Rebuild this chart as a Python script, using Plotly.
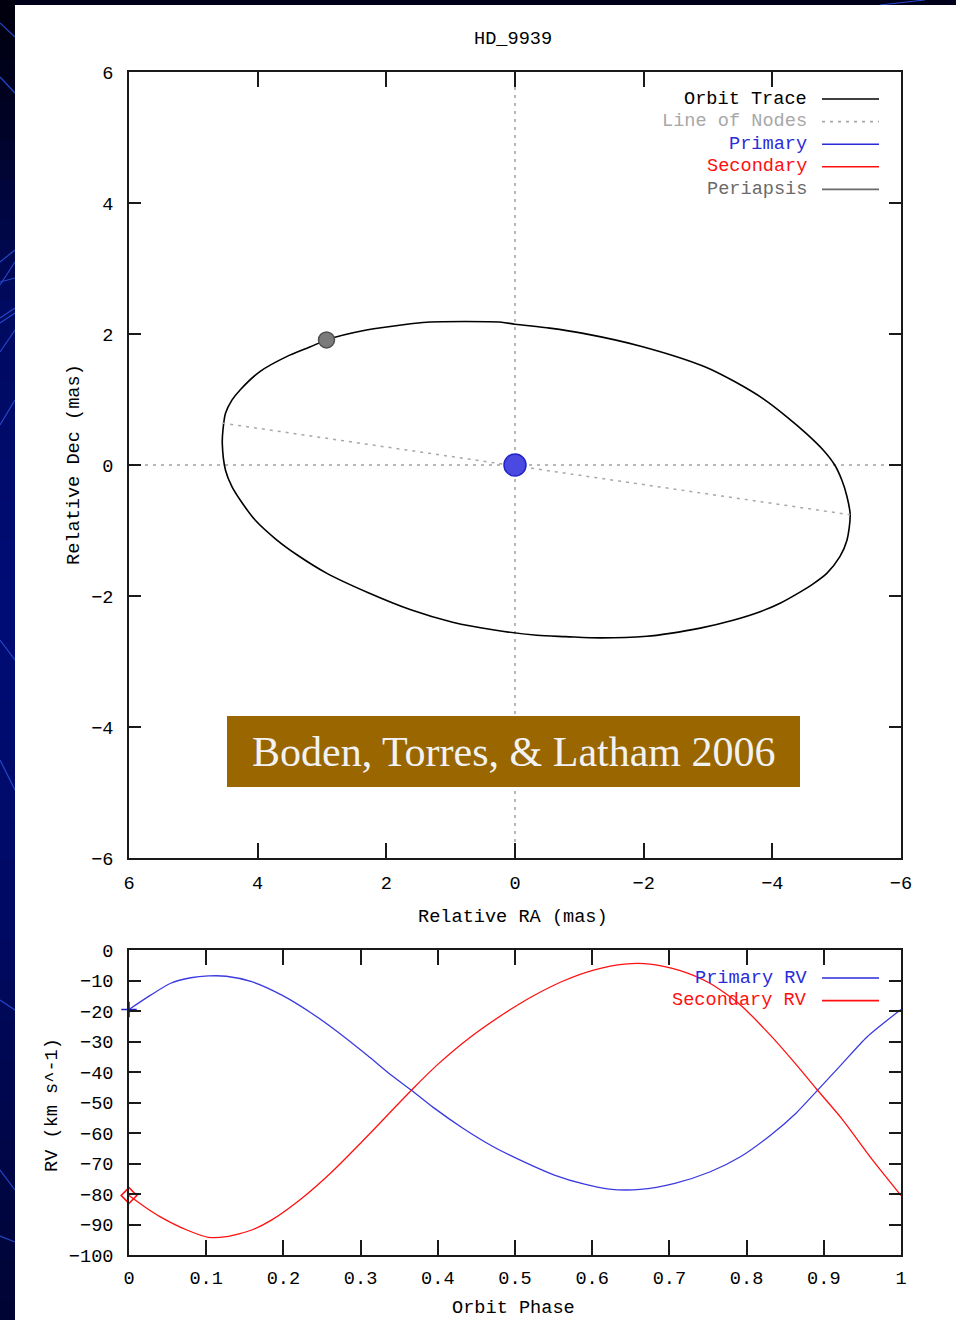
import plotly.graph_objects as go

# ---------------- data ----------------
title_text = "HD_9939"

# relative orbit of the secondary (RA, Dec in mas)
orbit_ra = [4.55, 4.54, 4.50, 4.40, 4.27, 3.96, 3.55, 3.19, 2.93, 2.31, 1.68, 1.37, 0.78,
            0.21, 0.00, -0.54, -1.06, -1.97, -2.95, -3.42, -3.86, -4.22, -4.53, -4.79,
            -4.97, -5.08, -5.16, -5.21, -5.16, -5.05, -4.85, -4.64, -4.43, -4.12, -3.81,
            -3.39, -2.88, -2.41, -2.05, -1.32, -0.79, -0.34, 0.32, 0.97, 1.62, 2.28, 2.93,
            3.39, 3.72, 4.04, 4.24, 4.40, 4.50, 4.55]
orbit_dec = [0.33, 0.53, 0.79, 0.99, 1.15, 1.43, 1.655, 1.80, 1.91, 2.06, 2.15, 2.18, 2.19,
             2.18, 2.15, 2.09, 2.01, 1.81, 1.50, 1.27, 1.01, 0.74, 0.48, 0.23,
             0.00, -0.23, -0.48, -0.76, -1.15, -1.40, -1.65, -1.81, -1.94, -2.11, -2.24,
             -2.37, -2.49, -2.57, -2.615, -2.64, -2.62, -2.60, -2.52, -2.40, -2.21, -1.95, -1.65,
             -1.37, -1.13, -0.84, -0.58, -0.33, -0.08, 0.33]

nodes_ra = [4.55, -5.21]
nodes_dec = [0.64, -0.76]

primary_ra = [0.0]
primary_dec = [0.0]

periapsis_ra = [2.93]
periapsis_dec = [1.91]

xy_ticks = [6, 4, 2, 0, -2, -4, -6]

# radial velocity curves (km/s) against orbital phase
phase_primary = [0.0, 0.028, 0.054, 0.080, 0.103, 0.126, 0.159, 0.198, 0.237, 0.270,
                 0.309, 0.342, 0.368, 0.394, 0.433, 0.472, 0.511, 0.551, 0.590, 0.622,
                 0.662, 0.707, 0.753, 0.792, 0.831, 0.864, 0.890, 0.923, 0.956, 1.0]
rv_primary = [-19.5, -14.8, -10.9, -9.1, -8.5, -8.6, -10.4, -14.8, -20.8, -26.8,
              -34.6, -41.5, -46.4, -51.6, -58.5, -64.5, -69.4, -73.8, -76.8, -78.4,
              -78.5, -76.5, -72.7, -67.8, -60.7, -53.5, -46.5, -37.5, -28.5, -19.5]

phase_secondary = [0.0, 0.022, 0.040, 0.075, 0.103, 0.126, 0.159, 0.185, 0.224, 0.263,
                   0.302, 0.335, 0.368, 0.400, 0.440, 0.485, 0.524, 0.564, 0.603, 0.642,
                   0.675, 0.714, 0.753, 0.792, 0.831, 0.864, 0.890, 0.923, 0.962, 1.0]
rv_secondary = [-80.5, -84.5, -87.4, -91.8, -94.2, -94.0, -91.8, -88.5, -81.4, -72.7,
                -62.8, -54.1, -45.4, -37.5, -29.0, -21.0, -15.0, -10.0, -6.5, -4.6,
                -4.6, -6.8, -11.0, -18.0, -28.0, -37.5, -45.4, -55.2, -68.5, -80.5]

phase_ticks = [0, 0.1, 0.2, 0.3, 0.4, 0.5, 0.6, 0.7, 0.8, 0.9, 1]
phase_tick_text = ["0", "0.1", "0.2", "0.3", "0.4", "0.5", "0.6", "0.7", "0.8", "0.9", "1"]
rv_ticks = [0, -10, -20, -30, -40, -50, -60, -70, -80, -90, -100]

orbit_legend = ["Orbit Trace", "Line of Nodes", "Primary", "Secondary", "Periapsis"]
rv_legend = ["Primary RV", "Secondary RV"]

citation = "Boden, Torres, & Latham 2006"

# ---------------- styling ----------------
W, H = 956, 1320
ML, MR, MT, MB = 129, 55, 72, 65
PW, PH = W - ML - MR, H - MT - MB

MONO = "Liberation Mono"
FS = 18.6
BLUE = "#2b2bd8"
RED = "#ff1010"
GRAY_NODES = "#a8a8a8"
GRAY_PERI = "#6a6a6a"


def px(x):
    return (x - ML) / PW


def py(y):
    return (H - MB - y) / PH


fig = go.Figure()

# orbit panel
fig.add_trace(go.Scatter(x=orbit_ra, y=orbit_dec, mode="lines",
                         line=dict(color="#000000", width=1.6, shape="spline", smoothing=0.8),
                         xaxis="x", yaxis="y", showlegend=False, hoverinfo="skip"))
fig.add_trace(go.Scatter(x=nodes_ra, y=nodes_dec, mode="lines",
                         line=dict(color=GRAY_NODES, width=1.5, dash="3px,5px"),
                         xaxis="x", yaxis="y", showlegend=False, hoverinfo="skip"))
fig.add_trace(go.Scatter(x=periapsis_ra, y=periapsis_dec, mode="markers",
                         marker=dict(size=16, color="#7a7a7a", line=dict(color="#505050", width=1.5)),
                         xaxis="x", yaxis="y", showlegend=False, hoverinfo="skip"))
fig.add_trace(go.Scatter(x=primary_ra, y=primary_dec, mode="markers",
                         marker=dict(size=22, color="#4a4ae2", line=dict(color="#2424c8", width=1.5)),
                         xaxis="x", yaxis="y", showlegend=False, hoverinfo="skip"))

# radial velocity panel
fig.add_trace(go.Scatter(x=phase_primary, y=rv_primary, mode="lines",
                         line=dict(color="#3a3ae0", width=1.3, shape="spline", smoothing=0.7),
                         xaxis="x2", yaxis="y2", showlegend=False, hoverinfo="skip"))
fig.add_trace(go.Scatter(x=phase_secondary, y=rv_secondary, mode="lines",
                         line=dict(color=RED, width=1.3, shape="spline", smoothing=0.7),
                         xaxis="x2", yaxis="y2", showlegend=False, hoverinfo="skip"))
fig.add_trace(go.Scatter(x=phase_primary[:1], y=rv_primary[:1], mode="markers",
                         marker=dict(symbol="cross-thin-open", size=11, color="#2020c0",
                                     line=dict(color="#2020c0", width=1.6)),
                         cliponaxis=False, xaxis="x2", yaxis="y2", showlegend=False, hoverinfo="skip"))
fig.add_trace(go.Scatter(x=phase_secondary[:1], y=rv_secondary[:1], mode="markers",
                         marker=dict(symbol="diamond-open", size=12, color=RED,
                                     line=dict(color=RED, width=1.6)),
                         cliponaxis=False, xaxis="x2", yaxis="y2", showlegend=False, hoverinfo="skip"))

shapes = []
annotations = []

# slide background: dark strip on the left with a vertical gradient
band_stops = [(0, (0, 0, 14)), (120, (0, 3, 40)), (300, (0, 10, 96)), (600, (0, 12, 118)),
              (900, (0, 10, 100)), (1150, (0, 6, 70)), (1320, (0, 4, 50))]
for i in range(0, H, 20):
    for (a, ca), (b, cb) in zip(band_stops[:-1], band_stops[1:]):
        if a <= i < b:
            t = (i - a) / (b - a)
            c = tuple(int(round(ca[k] + (cb[k] - ca[k]) * t)) for k in range(3))
            break
    shapes.append(dict(type="rect", xref="paper", yref="paper", layer="below",
                       x0=px(0), x1=px(15), y0=py(i), y1=py(i + 20),
                       fillcolor="rgb(%d,%d,%d)" % c, line=dict(width=0)))

for (x0, y0, x1, y1) in [(0, 23, 15, 37), (0, 77, 15, 93), (0, 262, 15, 250), (0, 285, 15, 262),
                         (0, 282, 15, 278), (0, 318, 15, 308), (0, 323, 15, 313), (0, 352, 15, 330),
                         (0, 425, 15, 400), (0, 640, 15, 660), (0, 760, 15, 790), (0, 1000, 15, 1010),
                         (0, 1170, 15, 1190), (0, 1236, 15, 1242), (880, 5, 925, 0)]:
    shapes.append(dict(type="line", xref="paper", yref="paper", layer="below",
                       x0=px(x0), y0=py(y0), x1=px(x1), y1=py(y1),
                       line=dict(color="#2446c8", width=1.2)))

# white sheet carrying the plot
shapes.append(dict(type="rect", xref="paper", yref="paper", layer="below",
                   x0=px(15), x1=px(W + 2), y0=py(5), y1=py(H + 2),
                   fillcolor="#ffffff", line=dict(width=0)))

# zero axes of the orbit panel
shapes.append(dict(type="line", xref="x", yref="y", x0=0, x1=0, y0=-6, y1=6, layer="below",
                   line=dict(color="#a0a0a0", width=1.5, dash="3px,5px")))
shapes.append(dict(type="line", xref="x", yref="y", x0=6, x1=-6, y0=0, y1=0, layer="below",
                   line=dict(color="#a0a0a0", width=1.5, dash="3px,5px")))

# key of the orbit panel
orbit_key_style = [("#000000", "#000000", "solid"), (GRAY_NODES, GRAY_NODES, "3px,5px"),
                   (BLUE, BLUE, "solid"), (RED, RED, "solid"), (GRAY_PERI, GRAY_PERI, "solid")]
for i, (label, (tc, lc, dash)) in enumerate(zip(orbit_legend, orbit_key_style)):
    yy = 99 + i * 22.6
    annotations.append(dict(xref="paper", yref="paper", x=px(809), y=py(yy), text=label,
                            xanchor="right", yanchor="middle", showarrow=False,
                            font=dict(family=MONO, size=FS, color=tc)))
    shapes.append(dict(type="line", xref="paper", yref="paper", x0=px(822), x1=px(879),
                       y0=py(yy), y1=py(yy), line=dict(color=lc, width=1.6, dash=dash)))

# key of the velocity panel
for i, (label, col) in enumerate(zip(rv_legend, [BLUE, RED])):
    yy = 978 + i * 22.6
    annotations.append(dict(xref="paper", yref="paper", x=px(809), y=py(yy), text=label,
                            xanchor="right", yanchor="middle", showarrow=False,
                            font=dict(family=MONO, size=FS, color=col)))
    shapes.append(dict(type="line", xref="paper", yref="paper", x0=px(822), x1=px(879),
                       y0=py(yy), y1=py(yy), line=dict(color=col, width=1.6)))

# citation banner
shapes.append(dict(type="rect", xref="paper", yref="paper", layer="above",
                   x0=px(227), x1=px(800), y0=py(716), y1=py(787),
                   fillcolor="#996600", line=dict(width=0)))
annotations.append(dict(xref="paper", yref="paper", x=px(513.5), y=py(752), text=citation,
                        xanchor="center", yanchor="middle", showarrow=False,
                        font=dict(family="Liberation Serif", size=42, color="#f2f2f2")))

# titles
def label(text, x, y, angle=0):
    annotations.append(dict(xref="paper", yref="paper", x=px(x), y=py(y), text=text,
                            xanchor="center", yanchor="middle", showarrow=False, textangle=angle,
                            font=dict(family=MONO, size=FS, color="#000000")))


label(title_text, 513, 39)
label("Relative RA (mas)", 513, 917)
label("Relative Dec (mas)", 74, 465, -90)
label("RV (km s^-1)", 52, 1105, -90)
label("Orbit Phase", 513, 1308)

axis_common = dict(showline=True, linecolor="#1a1a1a", linewidth=1.6, mirror="ticks",
                   ticks="inside", tickcolor="#1a1a1a", tickwidth=1.6, showgrid=False,
                   zeroline=False, tickfont=dict(family=MONO, size=FS, color="#000000"),
                   fixedrange=True)

fig.update_layout(
    width=W, height=H,
    margin=dict(l=ML, r=MR, t=MT, b=MB),
    paper_bgcolor="#00001a", plot_bgcolor="#ffffff",
    showlegend=False,
    xaxis=dict(axis_common, domain=[0, 1], range=[6, -6], tickvals=xy_ticks, ticklen=15,
               anchor="y", ticklabelstandoff=7),
    yaxis=dict(axis_common, domain=[397 / PH, 1], range=[-6, 6], tickvals=xy_ticks, ticklen=12,
               anchor="x", ticklabelstandoff=10),
    xaxis2=dict(axis_common, domain=[0, 1], range=[0, 1], tickvals=phase_ticks,
                ticktext=phase_tick_text, ticklen=15, anchor="y2", ticklabelstandoff=5),
    yaxis2=dict(axis_common, domain=[0, 305 / PH], range=[-100, 0], tickvals=rv_ticks,
                ticklen=12, anchor="x2", ticklabelstandoff=10),
    shapes=shapes,
    annotations=annotations,
)

fig.write_html("out.html")
